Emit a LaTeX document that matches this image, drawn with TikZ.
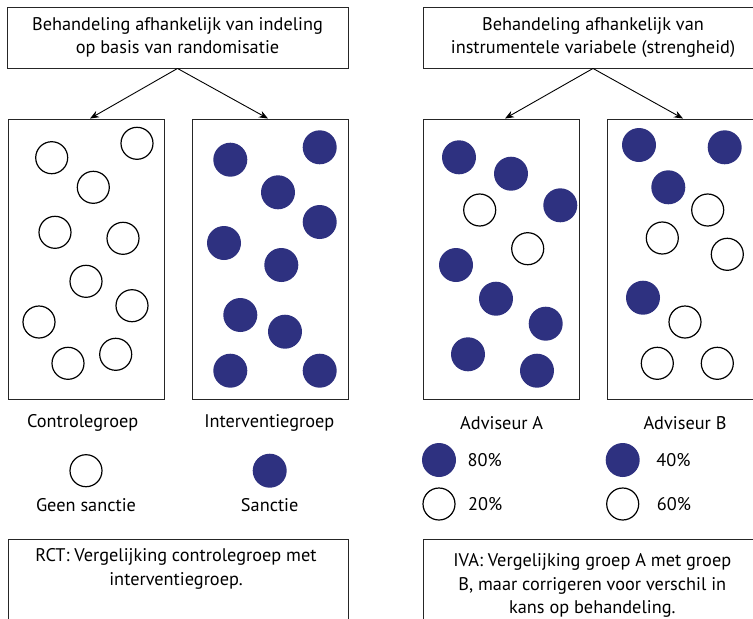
\documentclass[tikz,border=0pt]{standalone}
\usepackage{fontspec}
\setmainfont{PT Sans}
\usetikzlibrary{positioning,arrows.meta}
\definecolor{sanctieblauw}{RGB}{46,49,128}
\tikzset{
  kader/.style={draw=black!85, line width=0.9pt, inner sep=0pt},
  leeg/.style={circle, draw, line width=1.2pt, minimum size=32pt, inner sep=0pt},
  vol/.style={circle, fill=sanctieblauw, minimum size=34pt, inner sep=0pt},
  pijl/.style={-{Stealth[length=9pt,width=7pt]}, line width=0.9pt},
}
\begin{document}
\begin{tikzpicture}[x=1pt, y=-1pt, font=\fontsize{18.3}{23.5}\selectfont]
  \useasboundingbox (0,0) rectangle (753,619);
  \clip (0,0) rectangle (753,619);

  % Toewijzing bovenaan
  \node[kader, minimum width=341pt, minimum height=61pt, align=center] (rand) at (177.5,37.5)
    {Behandeling afhankelijk van indeling\\op basis van randomisatie};
  \node[kader, minimum width=340pt, minimum height=61pt, align=center] (instr) at (593,37.5)
    {Behandeling afhankelijk van\\instrumentele variabele (strengheid)};

  % Groepen
  \node[kader, minimum width=156pt, minimum height=280pt] (controle) at (86,259) {};
  \node[kader, minimum width=156pt, minimum height=280pt] (interventie) at (270,259) {};
  \node[kader, minimum width=156pt, minimum height=280pt] (advA) at (501,259) {};
  \node[kader, minimum width=156pt, minimum height=280pt] (advB) at (685,259) {};

  \draw[pijl] (rand.south) -- ([xshift=4pt]controle.north);
  \draw[pijl] (rand.south) -- ([xshift=-2pt]interventie.north);
  \draw[pijl] (instr.south) -- ([xshift=4pt]advA.north);
  \draw[pijl] (instr.south) -- ([xshift=-2pt]advB.north);

  % Personen in de groepen
  \foreach \x/\y [count=\i] in {51.7/157.7, 137/143.3, 93.3/187.3, 55/232.3, 123/238.3,
      86/281.3, 132/305.7, 39/322, 68/363.3, 115.7/354.3}
    \node[leeg] (c\i) at (\x,\y) {};
  \foreach \x/\y [count=\i] in {230.3/159.7, 319.7/147.3, 278/192.3, 319.7/222, 224/243,
      281.3/265, 240.3/315, 285/331.7, 230.3/370.7, 319.7/370.7}
    \node[vol] (i\i) at (\x,\y) {};
  \foreach \x/\y [count=\i] in {459/157.3, 511/173.7, 560.3/205.3, 456/265, 496/298.7,
      545.7/323.7, 468/354.3, 537/370.7}
    \node[vol] (av\i) at (\x,\y) {};
  \foreach \x/\y [count=\i] in {479.7/210, 527.7/248.7}
    \node[leeg] (al\i) at (\x,\y) {};
  \foreach \x/\y [count=\i] in {639/145, 724.7/147.3, 668.3/187.3, 643/297.7}
    \node[vol] (bv\i) at (\x,\y) {};
  \foreach \x/\y [count=\i] in {707.7/210, 662.3/238, 727.3/254.3, 685/322, 657.3/363.3, 717.3/363.3}
    \node[leeg] (bl\i) at (\x,\y) {};

  % Legenda links
  \node (tcontrole) at (82.7,423.3) {Controlegroep};
  \node (tinterventie) at (269.3,423.3) {Interventiegroep};
  \node[leeg] (geen) at (86,470.7) {};
  \node (tgeen) at (86,505) {Geen sanctie};
  \node[vol] (wel) at (269.7,470.7) {};
  \node (twel) at (269.7,505) {Sanctie};

  % Legenda rechts
  \node (tadvA) at (501.7,423.3) {Adviseur A};
  \node (tadvB) at (685,423.3) {Adviseur B};
  \node[vol] (a80) at (439,460) {};
  \node[right=8pt of a80] {80\%};
  \node[leeg] (a20) at (439,504) {};
  \node[right=9pt of a20] {20\%};
  \node[vol] (b40) at (622.7,460) {};
  \node[right=13pt of b40] {40\%};
  \node[leeg] (b60) at (622.7,504) {};
  \node[right=14pt of b60] {60\%};

  % Conclusies onderaan
  \node[kader, minimum width=340pt, minimum height=120pt, anchor=north] (rct) at (178,539.3) {};
  \node[align=center] (trct) at (176,569) {RCT: Vergelijking controlegroep met\\interventiegroep.};
  \node[kader, minimum width=340pt, minimum height=120pt, anchor=north] (iva) at (593,539.3) {};
  \node[align=center] (tiva) at (592.3,585.5) {IVA: Vergelijking groep A met groep\\B, maar corrigeren voor verschil in\\kans op behandeling.};
\end{tikzpicture}
\end{document}
